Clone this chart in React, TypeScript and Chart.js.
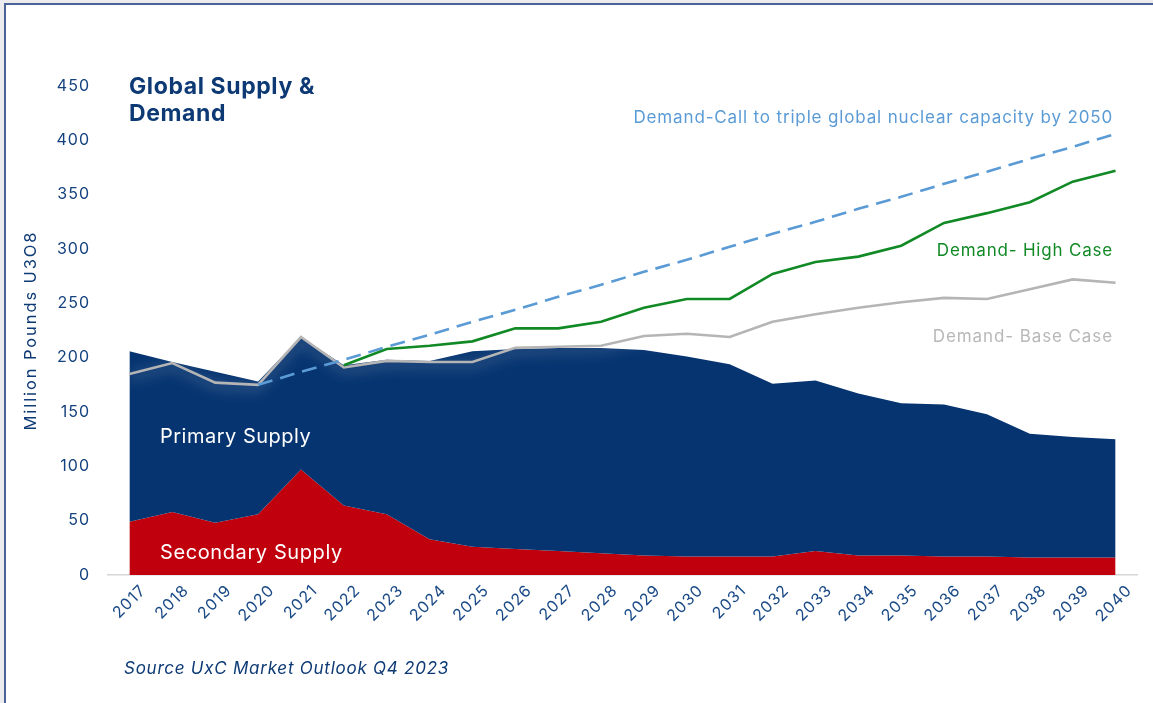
import React, { useEffect, useRef } from "react";
import { Chart, registerables } from "chart.js";

Chart.register(...registerables);

const years = [
  "2017", "2018", "2019", "2020", "2021", "2022", "2023", "2024", "2025", "2026", "2027", "2028",
  "2029", "2030", "2031", "2032", "2033", "2034", "2035", "2036", "2037", "2038", "2039", "2040",
];

const secondarySupply = [49, 58, 48, 56, 97, 64, 56, 33, 26, 24, 22, 20, 18, 17, 17, 17, 22, 18, 18, 17, 17, 16, 16, 16];

const totalSupply = [206, 196, 187, 178, 219, 193, 198, 197, 206, 208, 209, 209, 207, 201, 194, 176, 179, 167, 158, 157, 148, 130, 127, 125];

const baseDemand = [185, 195, 177, 175, 219, 191, 197, 196, 196, 209, 210, 211, 220, 222, 219, 233, 240, 246, 251, 255, 254, 263, 272, 269];

const highDemand = [null, null, null, null, null, 193, 208, 211, 215, 227, 227, 233, 246, 254, 254, 277, 288, 293, 303, 324, 333, 343, 362, 372];

const tripleDemand = [null, null, null, 175, 187, 198, 210, 221, 233, 244, 256, 267, 279, 290, 302, 314, 325, 337, 348, 360, 371, 383, 394, 406];

const yTicks = [0, 50, 100, 150, 200, 250, 300, 350, 400, 450];

const NAVY_TEXT = "#0d3a75";
const FONT = "Inter, 'Noto Sans', sans-serif";

const glowPlugin = {
  id: "grayGlow",
  beforeDatasetDraw(chart: any, args: any) {
    if (chart.data.datasets[args.index].label === "Demand- Base Case") {
      const ctx = chart.ctx;
      ctx.save();
      ctx.shadowColor = "rgba(255,255,255,0.5)";
      ctx.shadowBlur = 14;
      ctx.shadowOffsetY = 3;
    }
  },
  afterDatasetDraw(chart: any, args: any) {
    if (chart.data.datasets[args.index].label === "Demand- Base Case") {
      chart.ctx.restore();
    }
  },
};

const spacingPlugin = {
  id: "letterSpacing",
  afterLayout(chart: any) {
    const y = chart.scales.y;
    if (y && !y.__patched) {
      const orig = y.drawTitle.bind(y);
      y.drawTitle = function () {
        const ctx = chart.ctx;
        const prev = ctx.letterSpacing;
        ctx.letterSpacing = "1.9px";
        orig();
        ctx.letterSpacing = prev;
      };
      y.__patched = true;
    }
  },
  beforeDraw(chart: any) {
    chart.ctx.letterSpacing = "1px";
  },
  afterDraw(chart: any) {
    chart.ctx.letterSpacing = "0px";
  },
};

export default function App() {
  const canvasRef = useRef<HTMLCanvasElement | null>(null);

  useEffect(() => {
    const canvas = canvasRef.current;
    if (!canvas) return;
    const chart = new Chart(canvas, {
      type: "line",
      data: {
        labels: years,
        datasets: [
          {
            label: "Demand-Call to triple global nuclear capacity by 2050",
            data: tripleDemand,
            borderColor: "#5b9bd5",
            borderWidth: 2.6,
            borderDash: [15, 8],
            pointRadius: 0,
            fill: false,
            order: 0,
          },
          {
            label: "Demand- High Case",
            data: highDemand,
            borderColor: "#118a26",
            borderWidth: 2.6,
            pointRadius: 0,
            fill: false,
            order: 1,
          },
          {
            label: "Demand- Base Case",
            data: baseDemand,
            borderColor: "#b5b5b5",
            borderWidth: 2.6,
            pointRadius: 0,
            fill: false,
            order: 2,
          },
          {
            label: "Primary Supply",
            data: totalSupply,
            borderColor: "rgba(0,0,0,0)",
            borderWidth: 0,
            backgroundColor: "#063470",
            pointRadius: 0,
            fill: "+1",
            order: 3,
          },
          {
            label: "Secondary Supply",
            data: secondarySupply,
            borderColor: "rgba(0,0,0,0)",
            borderWidth: 0,
            backgroundColor: "#c0000d",
            pointRadius: 0,
            fill: "origin",
            order: 4,
          },
        ],
      },
      options: {
        responsive: false,
        animation: false,
        devicePixelRatio: 1,
        layout: { padding: { left: 0, top: 86, right: 16, bottom: 0 } },
        plugins: {
          legend: { display: false },
          tooltip: { enabled: false },
          title: { display: false },
        },
        elements: { line: { tension: 0 } },
        scales: {
          x: {
            offset: true,
            grid: { display: false, drawTicks: false },
            border: { display: true, color: "#d6d6d6", width: 1.5 },
            ticks: {
              autoSkip: false,
              maxRotation: 45,
              minRotation: 45,
              padding: 6,
              labelOffset: 14,
              color: "#1a4a86",
              font: { family: FONT, size: 16 },
            },
            afterFit: (scale: any) => {
              scale.height = 128;
            },
          },
          y: {
            min: 0,
            max: 450,
            grid: { display: false, drawTicks: false },
            border: { display: false },
            afterBuildTicks: (scale: any) => {
              scale.ticks = yTicks.map((v) => ({ value: v }));
            },
            ticks: {
              padding: 18,
              color: "#14427e",
              font: { family: FONT, size: 16 },
            },
            title: {
              display: true,
              text: "Million Pounds U3O8",
              color: NAVY_TEXT,
              font: { family: FONT, size: 16.5 },
              padding: { top: 21, bottom: 0 },
            },
            afterFit: (scale: any) => {
              scale.width = 108;
            },
          },
        },
      },
      plugins: [glowPlugin, spacingPlugin],
    });
    return () => chart.destroy();
  }, []);

  const abs = (extra: React.CSSProperties): React.CSSProperties => ({
    position: "absolute",
    whiteSpace: "nowrap",
    fontFamily: FONT,
    ...extra,
  });

  return (
    <div
      style={{
        position: "fixed",
        left: 0,
        top: 0,
        width: 1153,
        height: 703,
        overflow: "hidden",
        background: "#ececef",
      }}
    >
      <div
        style={{
          position: "absolute",
          left: 4,
          top: 3,
          width: 1160,
          height: 710,
          background: "#ffffff",
          borderLeft: "2px solid #4a6297",
          borderTop: "2px solid #4a6297",
        }}
      />
      <canvas
        ref={canvasRef}
        width={1153}
        height={703}
        style={{ position: "absolute", left: 0, top: 0, width: 1153, height: 703 }}
      />
      <div
        style={abs({
          left: 129,
          top: 73,
          fontSize: 23,
          lineHeight: "27px",
          fontWeight: 700,
          letterSpacing: "0.6px",
          color: NAVY_TEXT,
        })}
      >
        Global Supply &amp;
        <br />
        Demand
      </div>
      <div style={abs({ right: 40, top: 109, fontSize: 17, lineHeight: "17px", letterSpacing: "0.85px", color: "#5b9bd5" })}>
        Demand-Call to triple global nuclear capacity by 2050
      </div>
      <div style={abs({ right: 40, top: 242, fontSize: 17, lineHeight: "17px", letterSpacing: "0.8px", color: "#118a26" })}>
        Demand- High Case
      </div>
      <div style={abs({ right: 40, top: 328, fontSize: 17, lineHeight: "17px", letterSpacing: "0.9px", color: "#b8b8b8" })}>
        Demand- Base Case
      </div>
      <div style={abs({ left: 160, top: 426, fontSize: 20, lineHeight: "20px", letterSpacing: "0.5px", color: "#ffffff" })}>
        Primary Supply
      </div>
      <div style={abs({ left: 160, top: 542, fontSize: 20, lineHeight: "20px", letterSpacing: "0.6px", color: "#ffffff" })}>
        Secondary Supply
      </div>
      <div
        style={abs({
          left: 124,
          top: 660,
          fontSize: 17,
          lineHeight: "17px",
          fontStyle: "italic",
          letterSpacing: "0.75px",
          color: NAVY_TEXT,
        })}
      >
        Source UxC Market Outlook Q4 2023
      </div>
    </div>
  );
}
